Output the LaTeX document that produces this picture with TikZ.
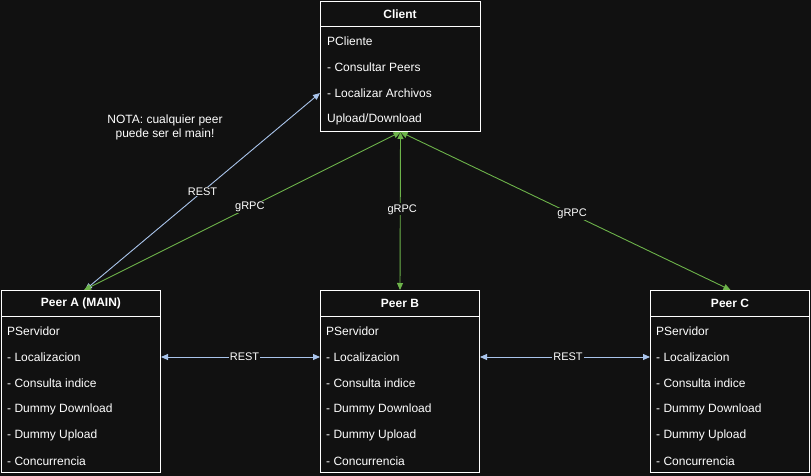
\documentclass[tikz,border=0pt]{standalone}
\usepackage{fontspec}
\setmainfont{Liberation Sans}
\usetikzlibrary{arrows.meta,calc}
\definecolor{bg}{HTML}{111111}
\definecolor{restc}{HTML}{A9C4EB}
\definecolor{grpcc}{HTML}{6DB34A}
\tikzset{
  boxnode/.style={draw=white, line width=1pt, fill=bg, rectangle, anchor=north west, inner sep=0pt},
  headtxt/.style={text=white, font=\fontsize{12}{14}\selectfont\bfseries, anchor=center},
  rowtxt/.style={text=white, font=\fontsize{12}{14}\selectfont, anchor=west, inner sep=0pt},
  lbl/.style={text=white, font=\fontsize{11}{13}\selectfont, fill=bg, inner sep=1pt},
  restarrow/.style={draw=restc, line width=0.9pt, {Triangle[length=7pt,width=6pt]}-{Triangle[length=7pt,width=6pt]}},
  grpcarrow/.style={draw=grpcc, line width=0.9pt, {Triangle[length=7pt,width=6pt]}-{Triangle[length=7pt,width=6pt]}},
}
\begin{document}
\begin{tikzpicture}[x=1pt,y=-1pt]
\fill[bg] (0,0) rectangle (811,476);
\useasboundingbox (0,0) rectangle (811,476);

% Client
\node[boxnode, minimum width=160pt, minimum height=130pt] (client) at (320,1) {};
\draw[white, line width=1pt] (320,27) -- (480,27);
\node[headtxt] (clienth) at (400,14) {Client};
\node[rowtxt] (c1) at (327,41) {PCliente};
\node[rowtxt] (c2) at (327,67) {- Consultar Peers};
\node[rowtxt] (c3) at (327,93) {- Localizar Archivos};
\node[rowtxt] (c4) at (327,119) {Upload/Download};

% Peers
\foreach \nm/\x/\title in {pa/1/Peer A (MAIN), pb/320/Peer B, pc/650/Peer C}{
  \node[boxnode, minimum width=159pt, minimum height=182pt] (\nm) at (\x,290) {};
  \draw[white, line width=1pt] (\x,316) -- ({\x+159},316);
  \node[headtxt] (\nm h) at ({\x+80},303) {\title};
  \node[rowtxt] (\nm 1) at ({\x+6},331) {PServidor};
  \node[rowtxt] (\nm 2) at ({\x+6},357) {- Localizacion};
  \node[rowtxt] (\nm 3) at ({\x+6},383) {- Consulta indice};
  \node[rowtxt] (\nm 4) at ({\x+6},409) {- Dummy Download};
  \node[rowtxt] (\nm 5) at ({\x+6},435) {- Dummy Upload};
  \node[rowtxt] (\nm 6) at ({\x+6},461) {- Concurrencia};
}

% Note
\node[text=white, font=\fontsize{12}{14}\selectfont, align=center] (nota) at (165,127) {NOTA: cualquier peer\\puede ser el main!};

% anchor coordinates
\coordinate (ctop) at (client.south);
\coordinate (cleft) at (client.west |- c3);
\coordinate (patop) at ($(pa.north)+(4,0)$);
\coordinate (patopg) at ($(pa.north)+(3,0)$);

% connectors
\draw[restarrow] (patop) -- node[lbl, midway] (lrest1) {REST} (cleft);
\draw[grpcarrow] (ctop) -- node[lbl, pos=0.476] (lg1) {gRPC} (patopg);
\draw[grpcarrow] (ctop) -- node[lbl, pos=0.49, xshift=2pt] (lg2) {gRPC} (pb.north);
\draw[grpcarrow] (ctop) -- node[lbl, pos=0.52] (lg3) {gRPC} ($(pc.north)+(0.5,0)$);
\draw[restarrow] (pa.east |- pa2) -- node[lbl, midway, xshift=4pt] (lrest2) {REST} (pb.west |- pb2);
\draw[restarrow] (pb.east |- pb2) -- node[lbl, midway, xshift=3pt] (lrest3) {REST} (pc.west |- pc2);
\end{tikzpicture}
\end{document}
